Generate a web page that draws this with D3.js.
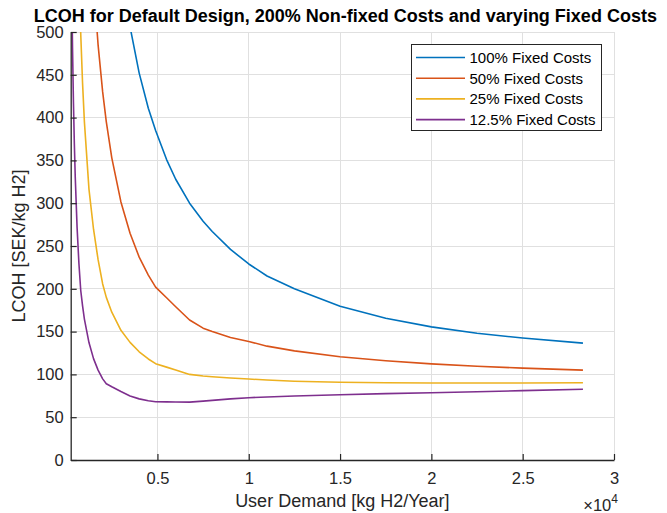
<!DOCTYPE html>
<html>
<head>
<meta charset="utf-8">
<script src="https://cdn.jsdelivr.net/npm/d3@7"></script>
<style>
  html, body { margin: 0; padding: 0; background: #fff; }
  svg { display: block; font-family: "Liberation Sans", Arial, sans-serif; }
</style>
</head>
<body>
<svg id="chart" width="667" height="513"></svg>
<script>
// ---- data ----
const demand   = [300, 350, 400, 450, 500, 600, 700, 800, 900, 1000, 1250, 1500, 1750, 2000, 2200, 2500, 3000, 3500, 4000, 4500, 4900, 5500, 6000, 6760, 7500, 8000, 9000, 10000, 11000, 12500, 15000, 17500, 20000, 22500, 25000, 28300];
const fixed100 = [null, null, null, null, null, null, null, null, null, null, null, null, null, null, null, null, 580, 506, 452, 411, 385, 351, 328, 300, 279, 267, 246, 229, 215, 200, 179.5, 165.5, 155.5, 148, 142.5, 136.5];
const fixed50  = [null, null, null, null, null, null, null, null, null, null, 660, 558, 485, 430, 395, 353, 301.5, 265, 237, 216, 202, 189.5, 179, 163.5, 154, 150, 143, 138.5, 133, 127.5, 120.6, 116, 112.3, 109.5, 107.3, 105];
const fixed25  = [null, null, null, null, null, 668, 571, 497.5, 440, 395, 316.5, 269.6, 234, 205.7, 190, 172.7, 151.5, 137.4, 126.4, 118, 112.5, 108.5, 105.1, 100, 98.2, 97.3, 95.8, 94.6, 93.4, 92, 90.8, 90.3, 90, 90, 90, 90.3];
const fixed125 = [564, 481, 418, 369, 330, 271.5, 229.5, 198, 180, 164.6, 137.2, 118.4, 105, 94.8, 89, 85.5, 80, 74.8, 71.4, 69.2, 68, 67.9, 67.8, 67.6, 68.8, 69.7, 71.4, 72.8, 73.6, 74.7, 76.3, 77.5, 78.6, 79.8, 81, 82.6];
const seriesNames = ["100% Fixed Costs", "50% Fixed Costs", "25% Fixed Costs", "12.5% Fixed Costs"];
const seriesColors = ["#0072BD", "#D95319", "#EDB120", "#7E2F8E"];
const xTicks = [5000, 10000, 15000, 20000, 25000, 30000];
const yTicks = [0, 50, 100, 150, 200, 250, 300, 350, 400, 450, 500];
const titleText = "LCOH for Default Design, 200% Non-fixed Costs and varying Fixed Costs";
const xLabel = "User Demand [kg H2/Year]";
const yLabel = "LCOH [SEK/kg H2]";

const allSeries = [fixed100, fixed50, fixed25, fixed125];

// ---- layout ----
const L = 70.7, R = 614, T = 32, B = 460;
const svg = d3.select("#chart");
const x = d3.scaleLinear().domain([250, 30000]).range([L, R]);
const y = d3.scaleLinear().domain([0, 500]).range([B, T]);
const axisCol = "#262626";
const gridCol = "#e0e0e0";

// grid
const grid = svg.append("g");
grid.selectAll(".gx").data(xTicks).enter().append("line")
  .attr("x1", d => x(d)).attr("x2", d => x(d)).attr("y1", T).attr("y2", B)
  .attr("stroke", gridCol).attr("stroke-width", 1).attr("shape-rendering", "crispEdges");
grid.selectAll(".gy").data(yTicks).enter().append("line")
  .attr("x1", L).attr("x2", R).attr("y1", d => y(d)).attr("y2", d => y(d))
  .attr("stroke", gridCol).attr("stroke-width", 1).attr("shape-rendering", "crispEdges");

// clip
svg.append("clipPath").attr("id", "clip").append("rect")
  .attr("x", L).attr("y", T).attr("width", R - L).attr("height", B - T);

const line = d3.line()
  .defined(d => d[1] !== null)
  .x(d => x(d[0])).y(d => y(d[1]));

const lines = svg.append("g").attr("clip-path", "url(#clip)");
allSeries.forEach((s, i) => {
  lines.append("path")
    .datum(demand.map((d, j) => [d, s[j]]))
    .attr("fill", "none")
    .attr("stroke", seriesColors[i])
    .attr("stroke-width", 1.6)
    .attr("stroke-linejoin", "round")
    .attr("d", line);
});

// axes
const xAxis = d3.axisBottom(x).tickValues(xTicks).tickSizeInner(-6).tickSizeOuter(0)
  .tickPadding(12).tickFormat(d => d3.format("~g")(d / 1e4));
const gx = svg.append("g").attr("transform", `translate(0,${B})`).call(xAxis);
gx.select(".domain").attr("stroke", axisCol).attr("stroke-width", 1.3);
gx.selectAll(".tick line").attr("stroke", axisCol).attr("stroke-width", 1.2);
gx.selectAll(".tick text").attr("fill", axisCol).attr("font-size", "16.5px")
  .attr("font-family", "Liberation Sans, Arial, sans-serif");

const yAxis = d3.axisLeft(y).tickValues(yTicks).tickSizeInner(-6).tickSizeOuter(0).tickPadding(7);
const gy = svg.append("g").attr("transform", `translate(${L},0)`).call(yAxis);
gy.select(".domain").attr("stroke", axisCol).attr("stroke-width", 1.3);
gy.selectAll(".tick line").attr("stroke", axisCol).attr("stroke-width", 1.2);
gy.selectAll(".tick text").attr("fill", axisCol).attr("font-size", "16.5px")
  .attr("font-family", "Liberation Sans, Arial, sans-serif");

// title
svg.append("text").attr("x", (L + R) / 2 + 3).attr("y", 22)
  .attr("text-anchor", "middle").attr("font-size", "18px").attr("font-weight", "bold")
  .attr("fill", "#000").text(titleText);

// axis labels
svg.append("text").attr("x", (L + R) / 2).attr("y", 507)
  .attr("text-anchor", "middle").attr("font-size", "18px").attr("fill", axisCol).text(xLabel);
svg.append("text").attr("transform", `translate(25,${(T + B) / 2}) rotate(-90)`)
  .attr("text-anchor", "middle").attr("font-size", "18px").attr("fill", axisCol).text(yLabel);

// exponent
const ex = svg.append("text").attr("x", R + 4).attr("y", 511).attr("text-anchor", "end")
  .attr("font-size", "16.5px").attr("fill", axisCol);
ex.append("tspan").text("\u00d710");
ex.append("tspan").attr("dy", -8).attr("font-size", "12px").text("4");

// legend
const lg = svg.append("g");
lg.append("rect").attr("x", 411.5).attr("y", 44.5).attr("width", 190).attr("height", 86)
  .attr("fill", "#fff").attr("stroke", axisCol).attr("stroke-width", 1);
seriesNames.forEach((n, i) => {
  const yy = 57.5 + i * 20.7;
  lg.append("line").attr("x1", 416).attr("x2", 465).attr("y1", yy).attr("y2", yy)
    .attr("stroke", seriesColors[i]).attr("stroke-width", 1.6);
  lg.append("text").attr("x", 469.5).attr("y", yy + 5.3).attr("font-size", "15px")
    .attr("fill", "#000").text(n);
});
</script>
</body>
</html>
